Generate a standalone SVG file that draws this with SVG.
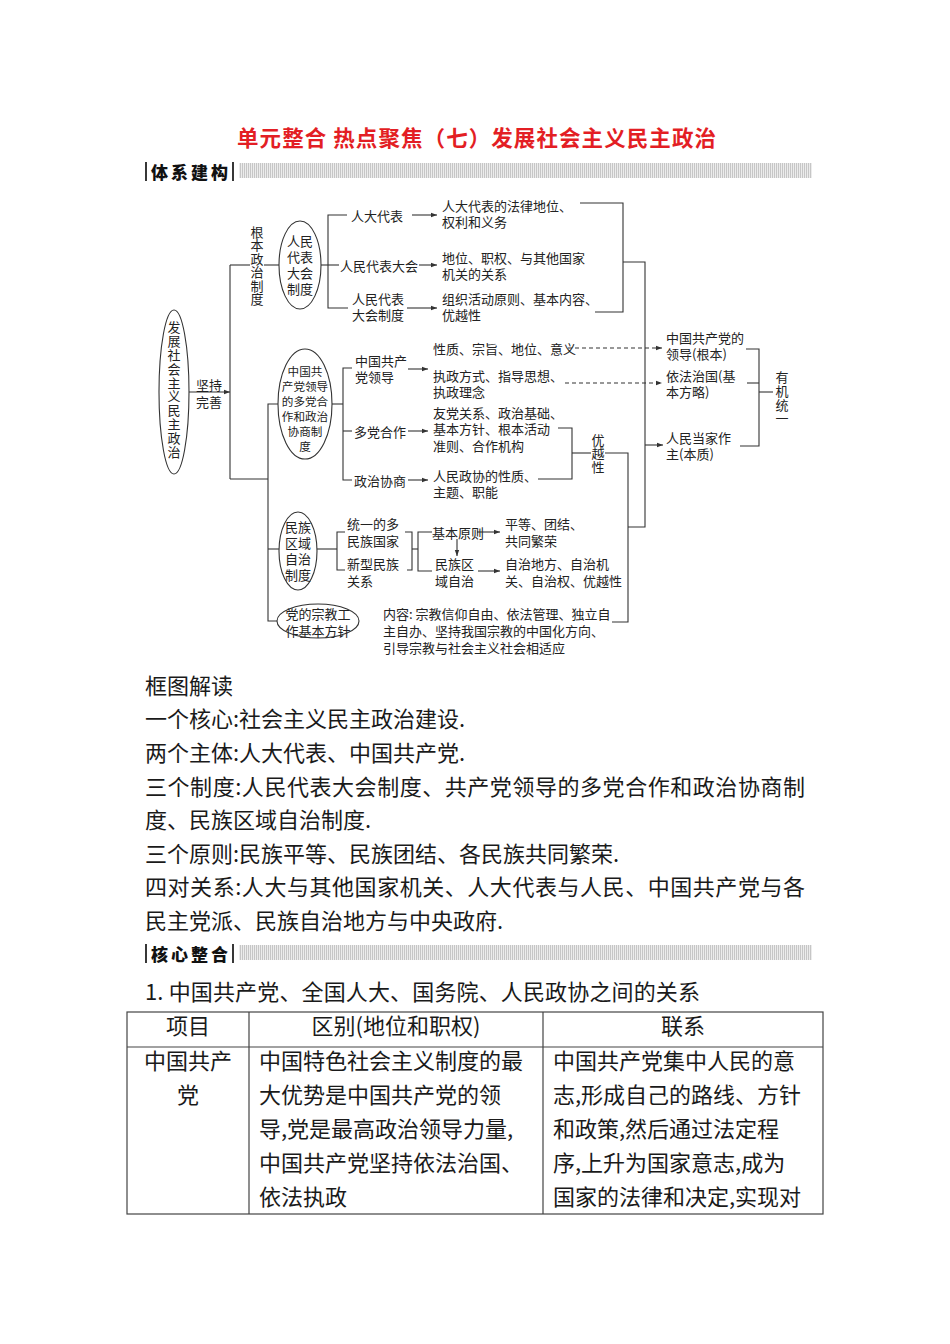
<svg xmlns="http://www.w3.org/2000/svg" width="950" height="1344" viewBox="0 0 950 1344">
<style>
text { font-family: "Noto Sans CJK SC", "Noto Sans", sans-serif; fill: #222; dominant-baseline: central; }
.t { font-size: 13px; }
.s { font-size: 11.6px; }
.c { text-anchor: middle; }
.v { writing-mode: vertical-rl; text-orientation: upright; }
.b { font-size: 22px; fill: #1a1a1a; }
.hd { font-size: 17px; font-weight: 900; letter-spacing: 3px; fill: #111; }
.ttl { font-size: 21.5px; font-weight: bold; fill: #e31e24; }
.ln { stroke: #333; stroke-width: 1.1; fill: none; }
.nd { stroke: #333; stroke-width: 1.1; fill: #fff; }
.ar { marker-end: url(#ah); }
.ds { stroke-dasharray: 4 3; }
.bar { stroke: #222; stroke-width: 1.8; }
.tb { stroke: #444; stroke-width: 1.2; fill: none; }
</style>
<defs>
<marker id="ah" markerUnits="userSpaceOnUse" markerWidth="7" markerHeight="6" refX="6" refY="3" orient="auto">
<path d="M0,0.8 L6,3 L0,5.2 z" fill="#333"/>
</marker>
<pattern id="hatch" width="2" height="2" patternUnits="userSpaceOnUse">
<rect width="2" height="2" fill="#ececec"/>
<rect width="1" height="2" fill="#c6c6c6"/>
</pattern>
</defs>
<rect width="950" height="1344" fill="#fff"/>

<!-- title -->
<text class="ttl" x="237" y="136" textLength="479">单元整合  热点聚焦（七）发展社会主义民主政治</text>

<!-- section header 1 -->
<g id="header1">
<line class="bar" x1="146" y1="162" x2="146" y2="181"/>
<text class="hd" x="151" y="171">体系建构</text>
<line class="bar" x1="233" y1="162" x2="233" y2="181"/>
<rect x="239" y="163" width="573" height="15" fill="url(#hatch)"/>
</g>

<!-- connectors -->
<g id="connectors">
<path class="ln ar" d="M188 392 H230"/>
<path class="ln" d="M230 265 V479"/>
<path class="ln" d="M230 265 H250"/>
<path class="ln" d="M264 265 H279"/>
<path class="ln" d="M321 265 H328"/>
<path class="ln" d="M347 215 H328 V308 H348"/>
<path class="ln" d="M328 265 H339"/>
<path class="ln ar" d="M412 215 H437"/>
<path class="ln ar" d="M419 265 H437"/>
<path class="ln ar" d="M407 308 H437"/>
<path class="ln" d="M580 203 H623 V312 H595"/>
<path class="ln" d="M623 262 H645 V527 H628"/>
<path class="ln ar" d="M645 445 H663"/>
<path class="ln" d="M230 479 H268"/>
<path class="ln" d="M278 404 H268 V621 H277"/>
<path class="ln" d="M268 549 H279"/>
<path class="ln" d="M332 404 H343"/>
<path class="ln" d="M352 368 H343 V480 H352"/>
<path class="ln" d="M343 431 H352"/>
<path class="ln ar" d="M408 369 H428"/>
<path class="ln ar" d="M408 431 H428"/>
<path class="ln ar" d="M408 480 H428"/>
<path class="ln ds ar" d="M568 348 H662"/>
<path class="ln ds ar" d="M565 383 H662"/>
<path class="ln" d="M558 428 H572 V479 H538"/>
<path class="ln" d="M572 453 H591"/>
<path class="ln" d="M605 453 H628 V622 H612"/>
<path class="ln" d="M746 349 H759 V446 H740"/>
<path class="ln" d="M747 383 H759"/>
<path class="ln" d="M759 392 H773"/>
<path class="ln" d="M317 549 H337"/>
<path class="ln" d="M345 532 H337 V570 H345"/>
<path class="ln" d="M405 532 H412 V570 H407"/>
<path class="ln" d="M412 549 H418"/>
<path class="ln" d="M432 532 H418 V571 H432"/>
<path class="ln ar" d="M477 532 H500"/>
<path class="ln ar" d="M478 571 H500"/>
<path class="ln ar" d="M457 539 V556"/>
</g>

<!-- root node -->
<g id="root">
<ellipse class="nd" cx="174" cy="392" rx="15" ry="82"/>
<text class="t v" x="174" y="320.5" letter-spacing="0.9">发展社会主义民主政治</text>
</g>
<g id="label-jianchi">
<text class="t c"><tspan x="209" y="384">坚持</tspan><tspan x="209" y="401">完善</tspan></text>
</g>
<g id="label-genben">
<text class="t v" x="257" y="225.5" letter-spacing="0.5">根本政治制度</text>
</g>

<!-- NPC system -->
<g id="npc-system">
<ellipse class="nd" cx="300" cy="265" rx="21" ry="44"/>
<text class="t c"><tspan x="300" y="240">人民</tspan><tspan x="300" y="256">代表</tspan><tspan x="300" y="272">大会</tspan><tspan x="300" y="288">制度</tspan></text>
</g>
<g id="npc-deputy"><text class="t" x="351" y="215">人大代表</text></g>
<g id="npc-congress"><text class="t" x="340" y="265">人民代表大会</text></g>
<g id="npc-sys"><text class="t"><tspan x="352" y="298">人民代表</tspan><tspan x="352" y="314">大会制度</tspan></text></g>
<g id="npc-deputy-d"><text class="t"><tspan x="442" y="205">人大代表的法律地位、</tspan><tspan x="442" y="221">权利和义务</tspan></text></g>
<g id="npc-congress-d"><text class="t"><tspan x="442" y="257">地位、职权、与其他国家</tspan><tspan x="442" y="273">机关的关系</tspan></text></g>
<g id="npc-sys-d"><text class="t"><tspan x="442" y="298">组织活动原则、基本内容、</tspan><tspan x="442" y="314">优越性</tspan></text></g>

<!-- CPC-led multi-party system -->
<g id="cpc-system">
<ellipse class="nd" cx="305" cy="404" rx="27" ry="55"/>
<text class="s c"><tspan x="305" y="371">中国共</tspan><tspan x="305" y="386">产党领导</tspan><tspan x="305" y="401">的多党合</tspan><tspan x="305" y="416">作和政治</tspan><tspan x="305" y="431">协商制</tspan><tspan x="305" y="446">度</tspan></text>
</g>
<g id="cpc-lead"><text class="t"><tspan x="355" y="360">中国共产</tspan><tspan x="355" y="376">党领导</tspan></text></g>
<g id="multi-party"><text class="t" x="354" y="431">多党合作</text></g>
<g id="consult"><text class="t" x="354" y="480">政治协商</text></g>
<g id="cpc-lead-d1"><text class="t" x="433" y="348">性质、宗旨、地位、意义</text></g>
<g id="cpc-lead-d2"><text class="t"><tspan x="433" y="375">执政方式、指导思想、</tspan><tspan x="433" y="391">执政理念</tspan></text></g>
<g id="multi-party-d"><text class="t"><tspan x="433" y="412">友党关系、政治基础、</tspan><tspan x="433" y="428">基本方针、根本活动</tspan><tspan x="433" y="445">准则、合作机构</tspan></text></g>
<g id="consult-d"><text class="t"><tspan x="433" y="475">人民政协的性质、</tspan><tspan x="433" y="491">主题、职能</tspan></text></g>
<g id="superiority"><text class="t v" x="598" y="433.5" letter-spacing="0.5">优越性</text></g>

<!-- right column -->
<g id="r-leader"><text class="t"><tspan x="666" y="337">中国共产党的</tspan><tspan x="666" y="353">领导(根本)</tspan></text></g>
<g id="r-law"><text class="t"><tspan x="666" y="375">依法治国(基</tspan><tspan x="666" y="391">本方略)</tspan></text></g>
<g id="r-people"><text class="t"><tspan x="666" y="437">人民当家作</tspan><tspan x="666" y="453">主(本质)</tspan></text></g>
<g id="r-unity"><text class="t v" x="782" y="371" letter-spacing="0.6">有机统一</text></g>

<!-- regional autonomy -->
<g id="autonomy-system">
<ellipse class="nd" cx="298" cy="551" rx="19" ry="39"/>
<text class="t c"><tspan x="298" y="526">民族</tspan><tspan x="298" y="542">区域</tspan><tspan x="298" y="558">自治</tspan><tspan x="298" y="574">制度</tspan></text>
</g>
<g id="unified"><text class="t"><tspan x="347" y="523">统一的多</tspan><tspan x="347" y="540">民族国家</tspan></text></g>
<g id="new-relation"><text class="t"><tspan x="347" y="563">新型民族</tspan><tspan x="347" y="580">关系</tspan></text></g>
<g id="principle"><text class="t" x="432" y="532">基本原则</text></g>
<g id="autonomy"><text class="t"><tspan x="435" y="563">民族区</tspan><tspan x="435" y="580">域自治</tspan></text></g>
<g id="principle-d"><text class="t"><tspan x="505" y="523">平等、团结、</tspan><tspan x="505" y="540">共同繁荣</tspan></text></g>
<g id="autonomy-d"><text class="t"><tspan x="505" y="563">自治地方、自治机</tspan><tspan x="505" y="580">关、自治权、优越性</tspan></text></g>

<!-- religion -->
<g id="religion">
<ellipse class="nd" cx="318" cy="621" rx="41" ry="17"/>
<text class="t c"><tspan x="318" y="613">党的宗教工</tspan><tspan x="318" y="630">作基本方针</tspan></text>
</g>
<g id="religion-d"><text class="t"><tspan x="383" y="613">内容: 宗教信仰自由、依法管理、独立自</tspan><tspan x="383" y="630">主自办、坚持我国宗教的中国化方向、</tspan><tspan x="383" y="647">引导宗教与社会主义社会相适应</tspan></text></g>

<!-- reading text -->
<g id="reading">
<text class="b" x="145" y="684">框图解读</text>
<text class="b" x="145" y="717">一个核心:社会主义民主政治建设.</text>
<text class="b" x="145" y="751">两个主体:人大代表、中国共产党.</text>
<text class="b" x="145" y="785" textLength="660">三个制度:人民代表大会制度、共产党领导的多党合作和政治协商制</text>
<text class="b" x="145" y="818">度、民族区域自治制度.</text>
<text class="b" x="145" y="852">三个原则:民族平等、民族团结、各民族共同繁荣.</text>
<text class="b" x="145" y="885" textLength="660">四对关系:人大与其他国家机关、人大代表与人民、中国共产党与各</text>
<text class="b" x="145" y="919">民主党派、民族自治地方与中央政府.</text>
</g>

<!-- section header 2 -->
<g id="header2">
<line class="bar" x1="146" y1="944" x2="146" y2="963"/>
<text class="hd" x="151" y="953">核心整合</text>
<line class="bar" x1="233" y1="944" x2="233" y2="963"/>
<rect x="239" y="945" width="573" height="15" fill="url(#hatch)"/>
</g>

<text class="b" x="145" y="990" textLength="555">1. 中国共产党、全国人大、国务院、人民政协之间的关系</text>

<!-- table -->
<g id="table">
<rect class="tb" x="127" y="1012" width="696" height="202"/>
<line class="tb" x1="127" y1="1047" x2="823" y2="1047"/>
<line class="tb" x1="249" y1="1012" x2="249" y2="1214"/>
<line class="tb" x1="543" y1="1012" x2="543" y2="1214"/>
<text class="b c" x="188" y="1024">项目</text>
<text class="b c" x="396" y="1024">区别(地位和职权)</text>
<text class="b c" x="683" y="1024">联系</text>
<text class="b c" x="188" y="1059">中国共产</text>
<text class="b c" x="188" y="1093">党</text>
<text class="b" x="259" y="1059">中国特色社会主义制度的最</text>
<text class="b" x="259" y="1093">大优势是中国共产党的领</text>
<text class="b" x="259" y="1127">导,党是最高政治领导力量,</text>
<text class="b" x="259" y="1161">中国共产党坚持依法治国、</text>
<text class="b" x="259" y="1195">依法执政</text>
<text class="b" x="553" y="1059">中国共产党集中人民的意</text>
<text class="b" x="553" y="1093">志,形成自己的路线、方针</text>
<text class="b" x="553" y="1127">和政策,然后通过法定程</text>
<text class="b" x="553" y="1161">序,上升为国家意志,成为</text>
<text class="b" x="553" y="1195">国家的法律和决定,实现对</text>
</g>
</svg>
